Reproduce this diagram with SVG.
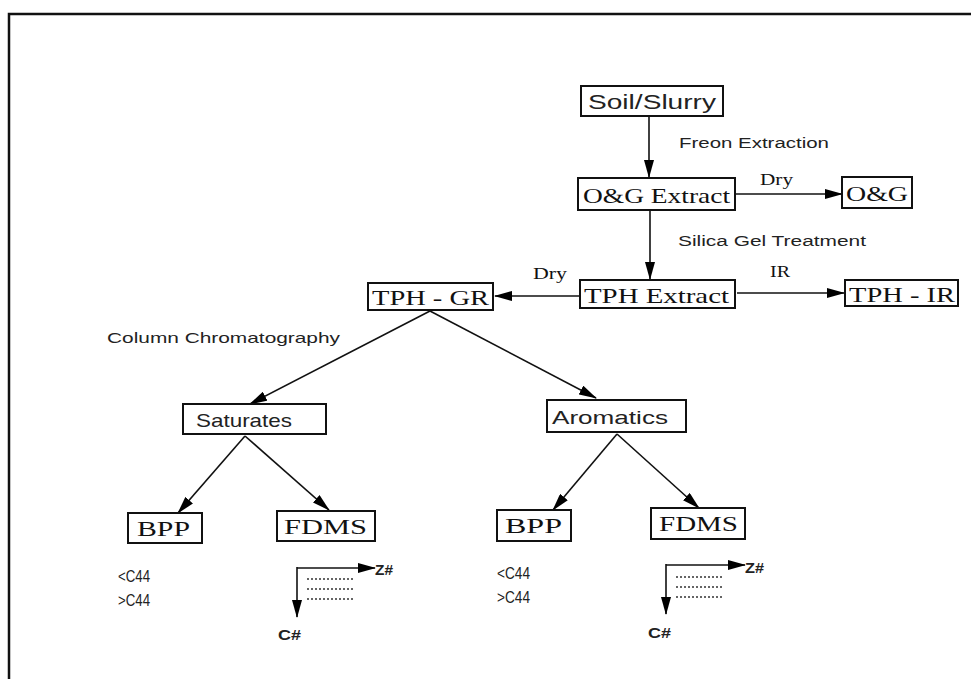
<svg xmlns="http://www.w3.org/2000/svg" width="971" height="679" viewBox="0 0 971 679">
<defs>
<marker id="ah" markerWidth="18" markerHeight="10" refX="17" refY="5" orient="auto" markerUnits="userSpaceOnUse">
<path d="M0,0 L18,5 L0,10 Z" fill="#000"/>
</marker>
<style>
.box{fill:#fff;stroke:#111;stroke-width:2}
.serif{font-family:"Liberation Serif","DejaVu Serif",serif;fill:#111}
.sans{font-family:"Liberation Sans","DejaVu Sans",sans-serif;fill:#222}
.ln{stroke:#111;stroke-width:1.6;fill:none}
.dot{stroke:#333;stroke-width:1.3;stroke-dasharray:2 2;fill:none}
</style>
</defs>
<rect width="971" height="679" fill="#fff"/>
<path d="M9,690 V14 H980" fill="none" stroke="#111" stroke-width="2.5"/>

<g id="connectors">
<line class="ln" x1="649" y1="117" x2="649" y2="177" marker-end="url(#ah)"/>
<line class="ln" x1="736" y1="194" x2="842" y2="194" marker-end="url(#ah)"/>
<line class="ln" x1="650" y1="210" x2="650" y2="279" marker-end="url(#ah)"/>
<line class="ln" x1="580" y1="296" x2="495" y2="296" marker-end="url(#ah)"/>
<line class="ln" x1="737" y1="293" x2="844" y2="293" marker-end="url(#ah)"/>
<line class="ln" x1="430" y1="311" x2="250" y2="404" marker-end="url(#ah)"/>
<line class="ln" x1="430" y1="311" x2="596" y2="398" marker-end="url(#ah)"/>
<line class="ln" x1="245" y1="436" x2="178" y2="513" marker-end="url(#ah)"/>
<line class="ln" x1="245" y1="436" x2="329" y2="510" marker-end="url(#ah)"/>
<line class="ln" x1="617" y1="434" x2="553" y2="510" marker-end="url(#ah)"/>
<line class="ln" x1="617" y1="434" x2="699" y2="508" marker-end="url(#ah)"/>
</g>

<g id="n-soil"><rect class="box" x="581" y="86" width="142" height="30"/><text class="sans" x="652" y="109" font-size="20" text-anchor="middle" textLength="128" lengthAdjust="spacingAndGlyphs">Soil/Slurry</text></g>
<text class="sans" x="679" y="148" font-size="14" textLength="150" lengthAdjust="spacingAndGlyphs">Freon Extraction</text>
<g id="n-ogext"><rect class="box" x="578" y="178" width="157" height="32"/><text class="serif" x="583" y="203" font-size="22" textLength="147" lengthAdjust="spacingAndGlyphs">O&amp;G Extract</text></g>
<text class="serif" x="760" y="185" font-size="16" textLength="33" lengthAdjust="spacingAndGlyphs">Dry</text>
<g id="n-og"><rect class="box" x="842" y="177" width="70" height="31"/><text class="serif" x="846" y="201" font-size="22" textLength="62" lengthAdjust="spacingAndGlyphs">O&amp;G</text></g>
<text class="sans" x="678" y="246" font-size="14" textLength="188" lengthAdjust="spacingAndGlyphs">Silica Gel Treatment</text>

<g id="n-tphext"><rect class="box" x="580" y="280" width="155" height="28"/><text class="serif" x="584" y="303" font-size="22" textLength="145" lengthAdjust="spacingAndGlyphs">TPH Extract</text></g>
<g id="n-tphgr"><rect class="box" x="368" y="283" width="125" height="27"/><text class="serif" x="372" y="305" font-size="22" textLength="117" lengthAdjust="spacingAndGlyphs">TPH - GR</text></g>
<text class="serif" x="533" y="279" font-size="16" textLength="34" lengthAdjust="spacingAndGlyphs">Dry</text>
<text class="serif" x="770" y="277" font-size="16" textLength="20" lengthAdjust="spacingAndGlyphs">IR</text>
<g id="n-tphir"><rect class="box" x="845" y="280" width="113" height="26"/><text class="serif" x="849" y="302" font-size="22" textLength="106" lengthAdjust="spacingAndGlyphs">TPH - IR</text></g>

<text class="sans" x="107" y="343" font-size="15" textLength="233" lengthAdjust="spacingAndGlyphs">Column Chromatography</text>

<g id="n-sat"><rect class="box" x="183" y="404" width="143" height="30"/><text class="sans" x="196" y="427" font-size="19" textLength="96" lengthAdjust="spacingAndGlyphs">Saturates</text></g>
<g id="n-aro"><rect class="box" x="547" y="400" width="139" height="32"/><text class="sans" x="552" y="424" font-size="19" textLength="116" lengthAdjust="spacingAndGlyphs">Aromatics</text></g>

<g id="n-bpp1"><rect class="box" x="128" y="513" width="74" height="30"/><text class="serif" x="137" y="536" font-size="20" textLength="53" lengthAdjust="spacingAndGlyphs">BPP</text></g>
<g id="n-fdms1"><rect class="box" x="277" y="511" width="98" height="30"/><text class="serif" x="284" y="534" font-size="20" textLength="83" lengthAdjust="spacingAndGlyphs">FDMS</text></g>
<g id="n-bpp2"><rect class="box" x="497" y="510" width="74" height="31"/><text class="serif" x="505" y="533" font-size="20" textLength="57" lengthAdjust="spacingAndGlyphs">BPP</text></g>
<g id="n-fdms2"><rect class="box" x="651" y="508" width="94" height="31"/><text class="serif" x="659" y="531" font-size="20" textLength="79" lengthAdjust="spacingAndGlyphs">FDMS</text></g>

<g id="labels-bpp1">
<text class="sans" x="118" y="582" font-size="16" textLength="32" lengthAdjust="spacingAndGlyphs">&lt;C44</text>
<text class="sans" x="118" y="606" font-size="16" textLength="32" lengthAdjust="spacingAndGlyphs">&gt;C44</text>
</g>
<g id="labels-bpp2">
<text class="sans" x="497" y="579" font-size="16" textLength="33" lengthAdjust="spacingAndGlyphs">&lt;C44</text>
<text class="sans" x="497" y="603" font-size="16" textLength="33" lengthAdjust="spacingAndGlyphs">&gt;C44</text>
</g>

<g id="axes1">
<line class="ln" x1="297" y1="568" x2="375" y2="568" marker-end="url(#ah)"/>
<line class="ln" x1="297" y1="567" x2="297" y2="617" marker-end="url(#ah)"/>
<path class="dot" d="M307,579 H353 M307,589 H353 M307,599 H353"/>
<text class="sans" x="375" y="575" font-size="15" font-weight="bold" textLength="18" lengthAdjust="spacingAndGlyphs">Z#</text>
<text class="sans" x="278" y="640" font-size="15" font-weight="bold" textLength="23" lengthAdjust="spacingAndGlyphs">C#</text>
</g>
<g id="axes2">
<line class="ln" x1="666" y1="565" x2="745" y2="565" marker-end="url(#ah)"/>
<line class="ln" x1="666" y1="564" x2="666" y2="614" marker-end="url(#ah)"/>
<path class="dot" d="M676,577 H723 M676,587 H723 M676,597 H723"/>
<text class="sans" x="745" y="573" font-size="15" font-weight="bold" textLength="19" lengthAdjust="spacingAndGlyphs">Z#</text>
<text class="sans" x="648" y="638" font-size="15" font-weight="bold" textLength="23" lengthAdjust="spacingAndGlyphs">C#</text>
</g>
</svg>
